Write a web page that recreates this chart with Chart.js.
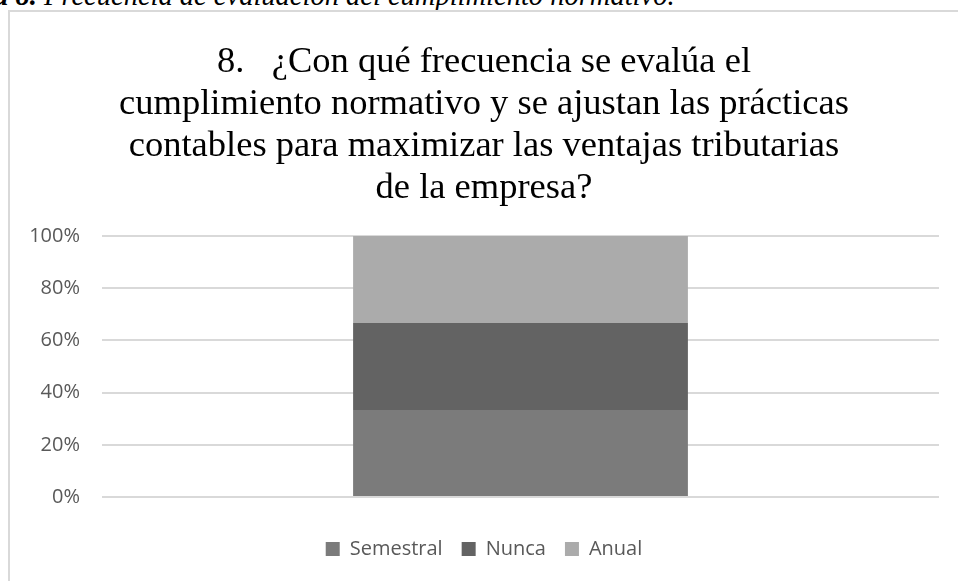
<!DOCTYPE html>
<html>
<head>
<meta charset="utf-8">
<script src="https://cdn.jsdelivr.net/npm/chart.js@4"></script>
<style>
  html, body { margin: 0; padding: 0; background: #fff; }
  body { width: 958px; height: 581px; position: relative; overflow: hidden; }
  #caption {
    position: absolute; left: -74px; top: -20px; white-space: nowrap;
    font-family: "Liberation Serif", serif; font-style: italic; font-size: 28.5px; color: #000;
  }
  #frame {
    position: absolute; left: 8px; top: 10px; right: -2px; bottom: -2px;
    border-top: 2px solid #d9d9d9; border-left: 2px solid #d9d9d9;
  }
  #wrap { position: absolute; left: 0; top: 0; width: 958px; height: 581px; }
</style>
</head>
<body>
<div id="caption"><b>Figura 8.</b> Frecuencia de evaluación del cumplimiento normativo.</div>
<div id="frame"></div>
<div id="wrap"><canvas id="myChart"></canvas></div>
<script>
const categories = [''];
const semestral = [33.33];
const nunca = [33.33];
const anual = [33.34];
const yTicks = [0, 20, 40, 60, 80, 100];

const titleLines = [
    '8.   ¿Con qué frecuencia se evalúa el',
    'cumplimiento normativo y se ajustan las prácticas',
    'contables para maximizar las ventajas tributarias',
    'de la empresa?'
];

const ctx = document.getElementById('myChart');

new Chart(ctx, {
    type: 'bar',
    data: {
        labels: categories,
        datasets: [
            { label: 'Semestral', data: semestral, backgroundColor: '#7b7b7b' },
            { label: 'Nunca', data: nunca, backgroundColor: '#636363' },
            { label: 'Anual', data: anual, backgroundColor: '#ababab' }
        ]
    },
    options: {
        responsive: true,
        maintainAspectRatio: false,
        animation: false,
        datasets: {
            bar: { categoryPercentage: 0.4, barPercentage: 1.0 }
        },
        layout: {
            padding: { left: 29, right: 19, top: 41, bottom: 12 }
        },
        scales: {
            x: {
                stacked: true,
                afterFit: (scale) => { scale.height = 23; },
                border: { display: false },
                grid: { display: false },
                ticks: { display: false }
            },
            y: {
                stacked: true,
                min: 0,
                max: 100,
                afterFit: (scale) => { scale.width = 73; },
                afterBuildTicks: (scale) => { scale.ticks = yTicks.map(v => ({ value: v })); },
                border: { display: false },
                grid: { color: '#d9d9d9', lineWidth: 2, drawTicks: false },
                ticks: {
                    padding: 22,
                    color: '#595959',
                    font: { family: 'Open Sans', size: 20 },
                    callback: (v) => v + '%'
                }
            }
        },
        plugins: {
            title: {
                display: true,
                text: titleLines,
                color: '#000',
                font: { family: 'Liberation Serif', size: 36.5, weight: 'normal', lineHeight: '42px' },
                padding: { top: 0, bottom: 27 }
            },
            legend: {
                position: 'bottom',
                labels: {
                    boxWidth: 14,
                    boxHeight: 14,
                    padding: 19,
                    color: '#595959',
                    font: { family: 'Open Sans', size: 20 }
                }
            },
            tooltip: { enabled: false }
        }
    }
});
</script>
</body>
</html>
